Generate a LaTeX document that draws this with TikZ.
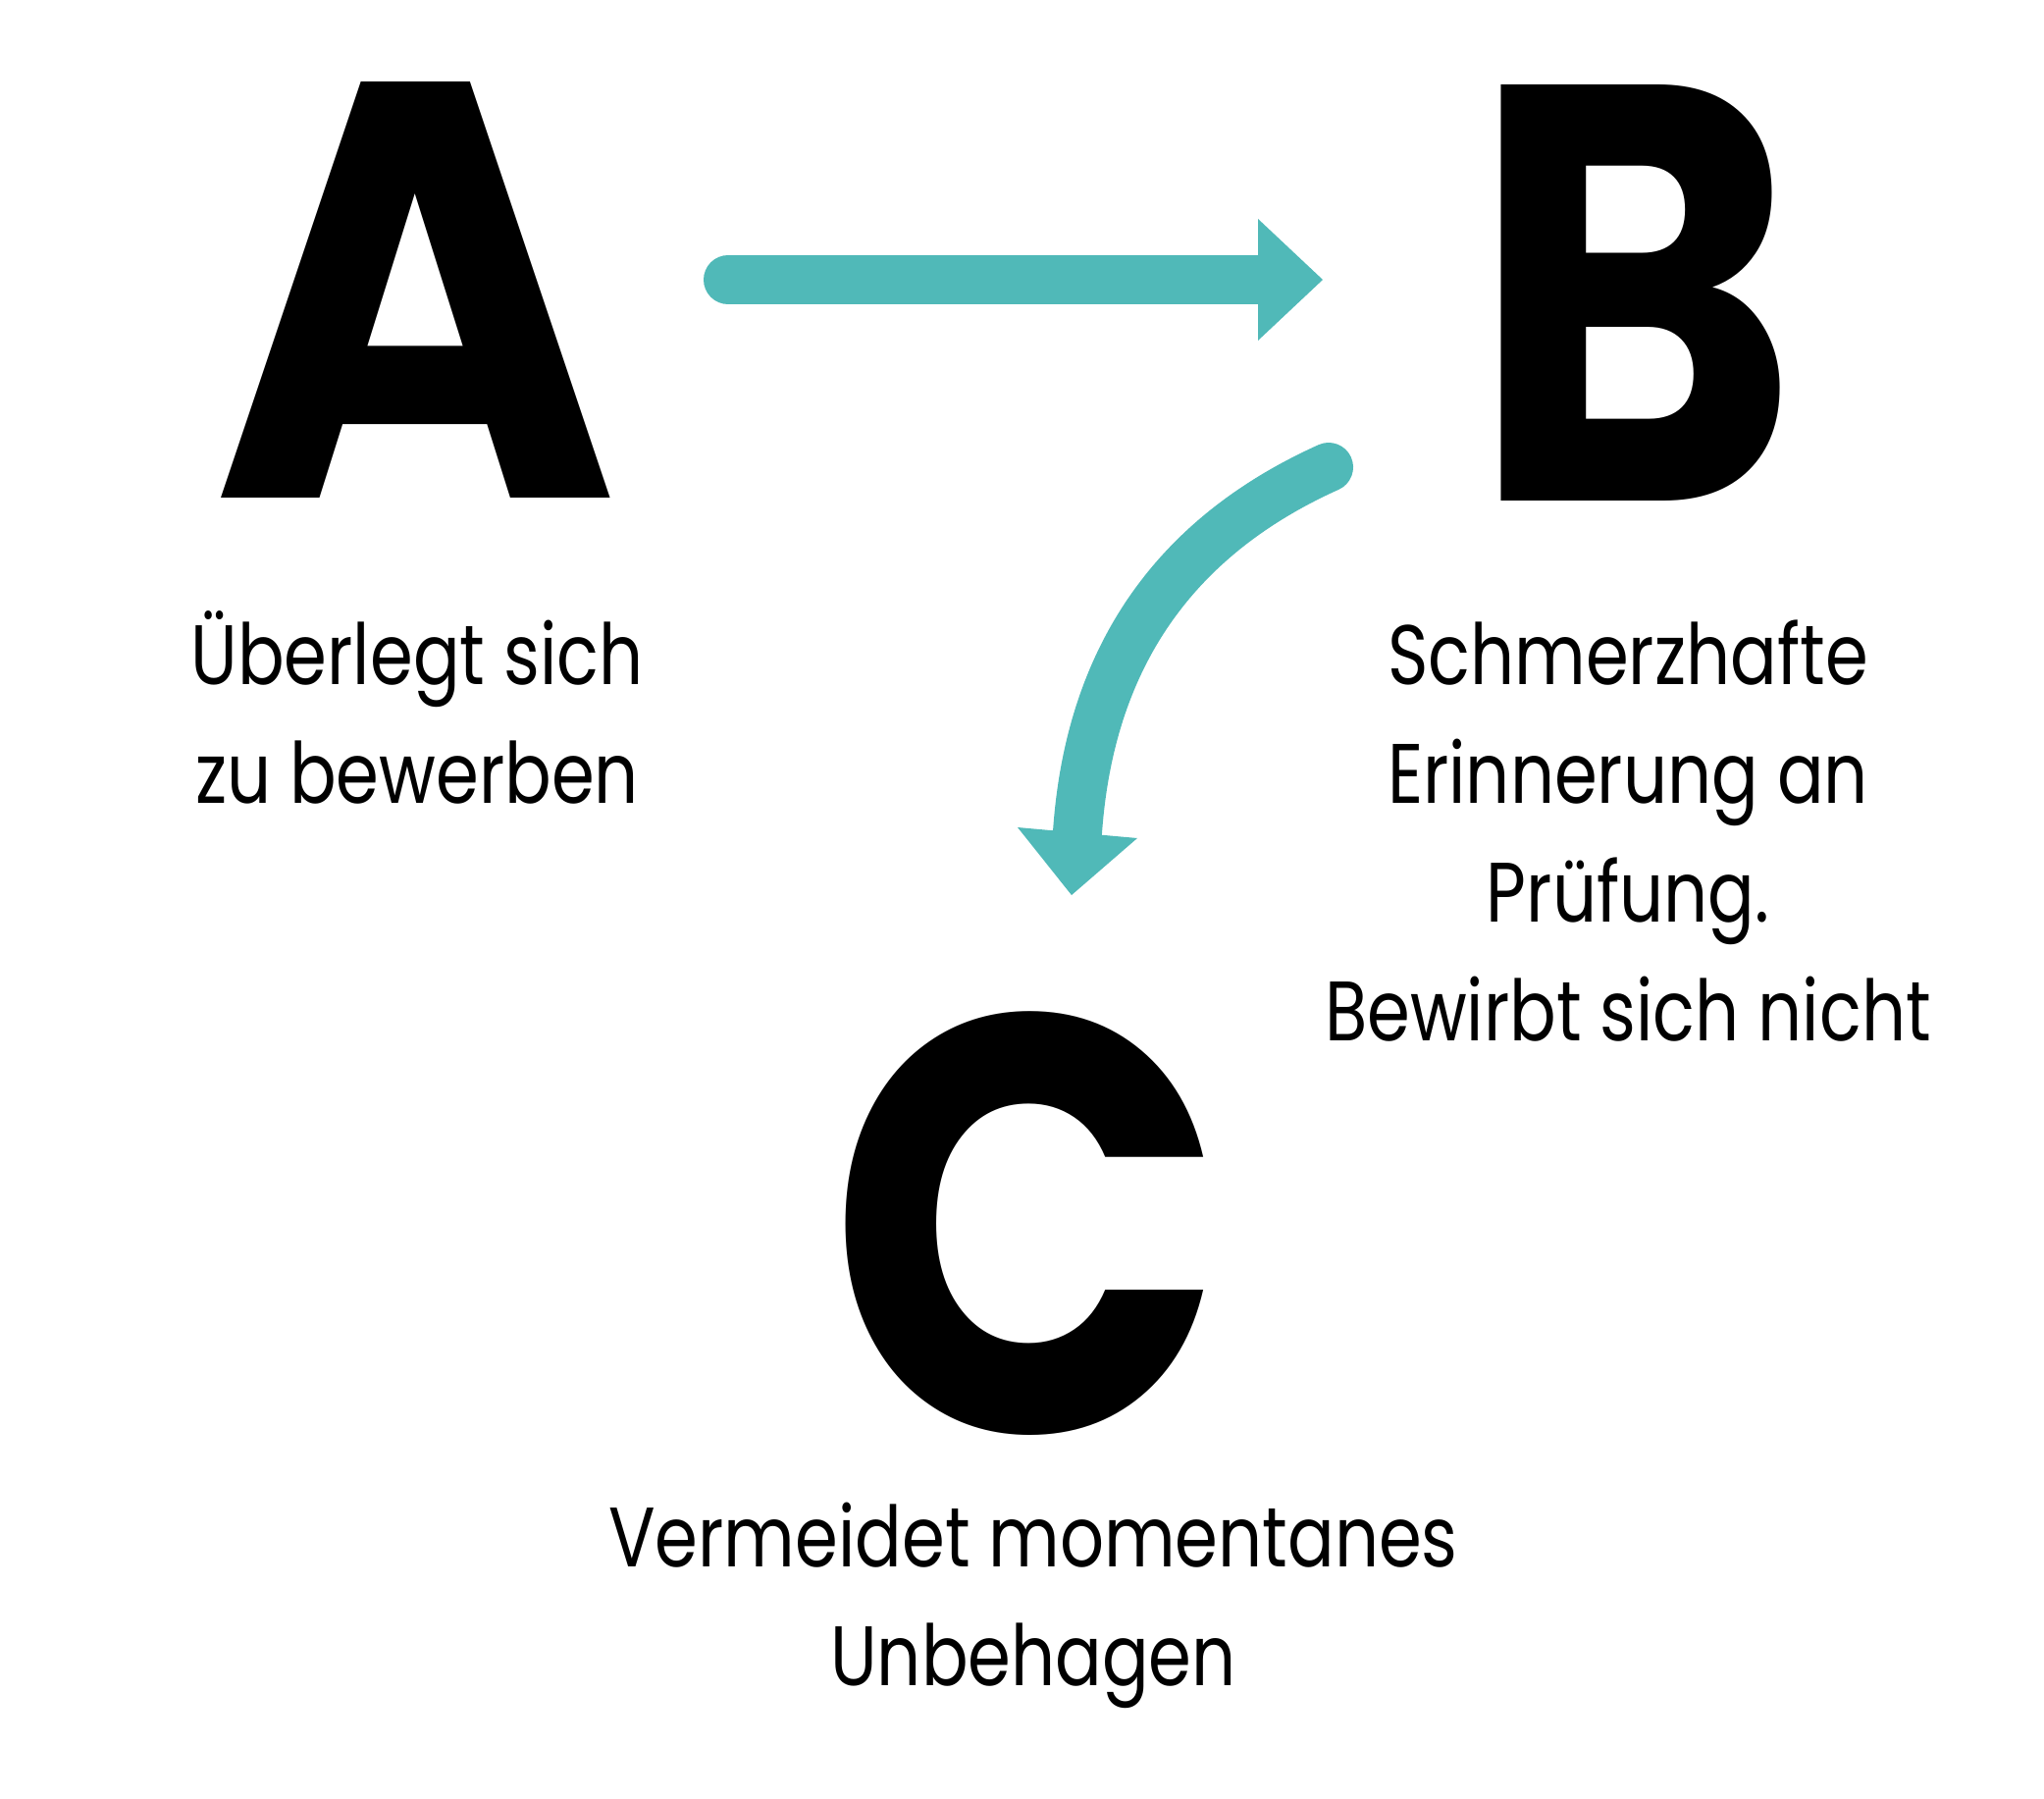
\documentclass[tikz,border=0pt]{standalone}
\usepackage{fontspec}
\setmainfont{Poppins}
\newfontfamily\poppins{Poppins}
\definecolor{teal}{RGB}{80,185,184}
\tikzset{
  bigletter/.style={font=\poppins\bfseries\fontsize{302}{302}\selectfont, inner sep=0pt, anchor=base},
  label/.style={font=\poppins\fontsize{43}{60.5}\selectfont, inner sep=0pt, anchor=base},
  connector/.style={draw=teal, line width=25pt, line cap=round},
  arrowhead/.style={fill=teal},
}
\newcommand\lbl[1]{\scalebox{0.82}[1]{\begin{tabular}[t]{@{}c@{}}#1\end{tabular}}}
\begin{document}
\begin{tikzpicture}[x=0.5pt,y=-0.5pt]
\path[use as bounding box, fill=white] (0,0) rectangle (2083,1832);
\node[bigletter] (A) at (423,507) {\scalebox{0.93}[1]{A}};
\node[bigletter] (B) at (1666,510) {\scalebox{0.84}[1.0]{B}};
\node[bigletter] (C) at (1047,1459) {\scalebox{0.88}[1]{C}};
\node[label] (tA) at (425,697) {\lbl{Überlegt sich\\zu bewerben}};
\node[label] (tB) at (1659,697) {\lbl{Schmerzhafte\\Erinnerung an\\Prüfung.\\Bewirbt sich nicht}};
\node[label] (tC) at (1053,1596) {\lbl{Vermeidet momentanes\\Unbehagen}};
% arrow A -> B
\coordinate (a1s) at (742,285);
\coordinate (a1b) at (1282,285);
\coordinate (a1t) at (1348,285);
\coordinate (a1u) at (1282,223);
\coordinate (a1d) at (1282,347);
\draw[connector] (a1s) -- (a1b);
\fill[arrowhead] (a1u) -- (a1t) -- (a1d) -- cycle;
% arrow B -> C
\coordinate (a2s) at (1354,476);
\coordinate (a2b) at (1098,848);
\coordinate (a2t) at (1092,912);
\coordinate (a2l) at (1037,843);
\coordinate (a2r) at (1159,854);
\draw[connector] (a2s) .. controls (1217.5,537.5) and (1112,648) .. (a2b);
\fill[arrowhead] (a2l) -- (a2t) -- (a2r) -- cycle;
\end{tikzpicture}
\end{document}
